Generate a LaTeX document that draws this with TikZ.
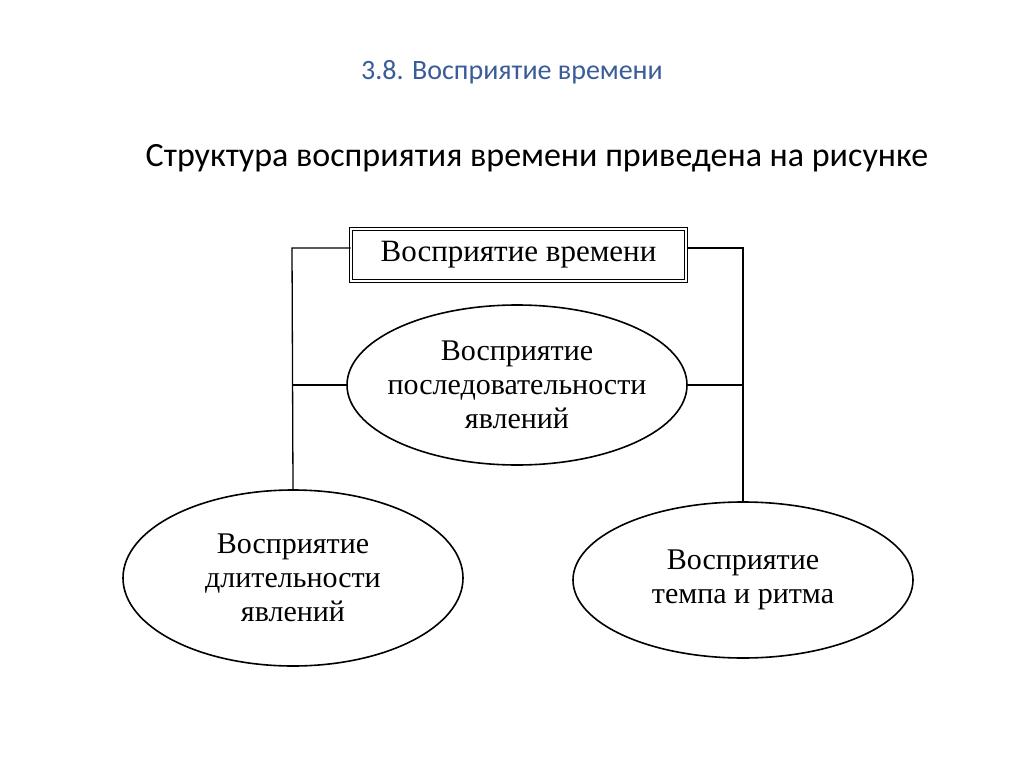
\documentclass[tikz,border=0pt]{standalone}
\usepackage{fontspec}
\setmainfont{Liberation Serif}
\newfontfamily\slidefont{Carlito}
\usetikzlibrary{shapes.geometric}
\definecolor{titleblue}{HTML}{3A5C98}
\begin{document}
\begin{tikzpicture}[x=1pt,y=-1pt,
  ln/.style={line width=1.3pt},
  ov/.style={draw,line width=1.6pt,ellipse,align=center,font=\fontsize{30}{34}\selectfont,inner xsep=-60pt,inner ysep=-30pt},
]
\useasboundingbox[fill=white] (0,0) rectangle (1024,767);
\node[font=\slidefont\fontsize{28}{32}\selectfont,text=titleblue] (t) at (512,72) {3.8. Восприятие времени};
\node[font=\slidefont\fontsize{34}{38}\selectfont] (s) at (537,158) {Структура восприятия времени приведена на рисунке};
\node[draw,double,double distance=1.5pt,line width=1pt,minimum width=335pt,minimum height=52pt,font=\fontsize{31}{34}\selectfont] (b) at (518.5,255) {Восприятие времени};
\node[ov,minimum width=340pt,minimum height=160pt] (m) at (517,385) {Восприятие\\последовательности\\явлений};
\node[ov,minimum width=340pt,minimum height=176pt] (l) at (293,578) {Восприятие\\длительности\\явлений};
\node[ov,minimum width=340pt,minimum height=156pt] (r) at (743,580) {Восприятие\\темпа и ритма};
\coordinate (cl) at (292,248);
\coordinate (cr) at (743,248);
\coordinate (ml) at (292,385);
\coordinate (mr) at (743,385);
\draw[ln] (b.west |- cl) -- (cl) -- (l.north);
\draw[ln] (b.east |- cr) -- (cr) -- (r.north);
\draw[ln] (ml) -- (m.west);
\draw[ln] (m.east) -- (mr);
\end{tikzpicture}
\end{document}
